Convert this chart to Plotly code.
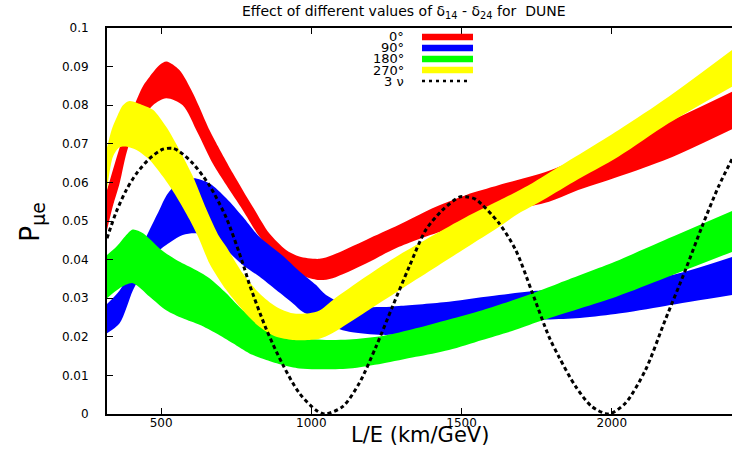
import plotly.graph_objects as go

# ---------------- data ----------------
RED_UP_X = [320, 362, 406, 440, 462, 495, 518, 561, 606, 661, 678, 739, 805, 860, 916, 960, 1027, 1071, 1182, 1292, 1403, 1514, 1625, 1791, 1957, 2179, 2400]
RED_UP_Y = [0.058, 0.069, 0.079, 0.085, 0.0874, 0.0904, 0.0913, 0.0891, 0.0831, 0.0736, 0.071, 0.0624, 0.0537, 0.0468, 0.0425, 0.0408, 0.0402, 0.0412, 0.0451, 0.049, 0.0533, 0.0567, 0.0593, 0.063, 0.0683, 0.0754, 0.0835]
RED_LO_X = [320, 340, 362, 390, 429, 473, 517, 572, 622, 672, 717, 772, 827, 883, 938, 982, 1027, 1071, 1182, 1292, 1458, 1625, 1791, 1874, 2023, 2189, 2400]
RED_LO_Y = [0.0477, 0.054, 0.0598, 0.069, 0.0755, 0.080, 0.0818, 0.080, 0.0728, 0.0649, 0.0593, 0.0528, 0.046, 0.041, 0.037, 0.0355, 0.0347, 0.0352, 0.039, 0.0433, 0.048, 0.052, 0.055, 0.0576, 0.0615, 0.0662, 0.0738]

BLUE_UP_X = [320, 362, 406, 440, 495, 517, 551, 606, 661, 717, 772, 827, 905, 960, 1016, 1049, 1126, 1237, 1292, 1458, 1625, 1747, 1957, 2189, 2400]
BLUE_UP_Y = [0.0285, 0.032, 0.038, 0.0442, 0.053, 0.0565, 0.0595, 0.0611, 0.0598, 0.0559, 0.0511, 0.0459, 0.041, 0.037, 0.0334, 0.0308, 0.028, 0.0277, 0.028, 0.0291, 0.0308, 0.0319, 0.0335, 0.0358, 0.0407]
BLUE_LO_X = [320, 362, 406, 440, 473, 517, 572, 617, 661, 717, 772, 827, 883, 938, 971, 1027, 1071, 1126, 1237, 1348, 1458, 1625, 1768, 1880, 2012, 2178, 2400]
BLUE_LO_Y = [0.0209, 0.0235, 0.032, 0.037, 0.041, 0.0438, 0.0464, 0.0468, 0.046, 0.0425, 0.0386, 0.0356, 0.0321, 0.0287, 0.0265, 0.0245, 0.0226, 0.0213, 0.0205, 0.0209, 0.0222, 0.0236, 0.0244, 0.0248, 0.0259, 0.028, 0.0308]

GREEN_UP_X = [320, 351, 380, 406, 440, 495, 551, 606, 661, 717, 772, 827, 883, 938, 993, 1049, 1126, 1237, 1348, 1458, 1569, 1680, 1824, 2012, 2189, 2400]
GREEN_UP_Y = [0.0412, 0.0433, 0.046, 0.0478, 0.0468, 0.0429, 0.0399, 0.0377, 0.0352, 0.0313, 0.0269, 0.024, 0.0218, 0.0203, 0.0195, 0.0192, 0.0193, 0.0202, 0.0222, 0.0245, 0.0269, 0.0297, 0.0339, 0.0395, 0.0455, 0.0526]
GREEN_LO_X = [320, 362, 406, 462, 517, 572, 628, 683, 739, 794, 850, 905, 960, 1016, 1126, 1237, 1348, 1458, 1569, 1680, 1774, 2015, 2179, 2400]
GREEN_LO_Y = [0.030, 0.0326, 0.0339, 0.0304, 0.0269, 0.0248, 0.0231, 0.0209, 0.0183, 0.0157, 0.014, 0.0127, 0.0118, 0.0116, 0.0118, 0.0131, 0.0148, 0.0166, 0.0192, 0.0218, 0.0244, 0.0304, 0.0353, 0.042]

YELLOW_UP_X = [320, 335, 351, 373, 395, 440, 473, 517, 561, 606, 650, 694, 717, 772, 827, 883, 938, 993, 1027, 1071, 1182, 1292, 1403, 1514, 1625, 1735, 1802, 2023, 2189, 2400]
YELLOW_UP_Y = [0.069, 0.0735, 0.0766, 0.080, 0.0811, 0.080, 0.0788, 0.0744, 0.0684, 0.0615, 0.0532, 0.0459, 0.0433, 0.0364, 0.0313, 0.0278, 0.0261, 0.0261, 0.0268, 0.0295, 0.0356, 0.0412, 0.0462, 0.051, 0.0553, 0.0598, 0.063, 0.0736, 0.0822, 0.0943]
YELLOW_LO_X = [320, 340, 362, 390, 418, 462, 506, 551, 595, 628, 661, 717, 772, 827, 883, 938, 993, 1027, 1071, 1182, 1292, 1403, 1514, 1625, 1691, 1757, 1874, 2023, 2189, 2400]
YELLOW_LO_Y = [0.058, 0.0667, 0.0691, 0.0692, 0.0684, 0.0658, 0.0615, 0.0563, 0.0503, 0.0451, 0.039, 0.0321, 0.0269, 0.0226, 0.020, 0.0192, 0.0192, 0.0195, 0.021, 0.0265, 0.032, 0.0375, 0.043, 0.0485, 0.052, 0.0548, 0.0602, 0.0667, 0.0753, 0.0848]

NU3_X = [320, 351, 384, 418, 462, 506, 540, 561, 606, 661, 717, 772, 794, 850, 905, 960, 1016, 1045, 1104, 1159,
         1215, 1270, 1326, 1381, 1436, 1492, 1514, 1547, 1625, 1680, 1735, 1791, 1824, 1880, 1934, 1990, 2045, 2112, 2178, 2245,
         2300, 2355, 2400]
NU3_Y = [0.0455, 0.0524, 0.058, 0.0623, 0.0662, 0.0686, 0.0688, 0.068, 0.0649, 0.0592, 0.0508, 0.039, 0.0336, 0.022, 0.0128, 0.0054, 0.001, 0.0, 0.0019, 0.0079,
         0.0174, 0.0278, 0.0382, 0.0477, 0.0528, 0.0562, 0.0563, 0.0556, 0.0494, 0.0425, 0.0315, 0.02, 0.0148, 0.0071, 0.0019, 0.0, 0.0028, 0.0114, 0.0244, 0.0373,
         0.0485, 0.0589, 0.066]

X_TICKS = [500, 1000, 1500, 2000]
Y_TICKS = [0, 0.01, 0.02, 0.03, 0.04, 0.05, 0.06, 0.07, 0.08, 0.09, 0.1]
Y_TICK_TEXT = ["0", "0.01", "0.02", "0.03", "0.04", "0.05", "0.06", "0.07", "0.08", "0.09", "0.1"]

LEGEND_LABELS = ["0°", "90°", "180°", "270°", "3 ν"]
RED, BLUE, GREEN, YELLOW = "#ff0000", "#0000ff", "#00ff00", "#ffff00"
LEGEND_COLORS = [RED, BLUE, GREEN, YELLOW, "black"]

FONT = "DejaVu Sans"

fig = go.Figure()


def band(xl, yl, xu, yu, color):
    ln = dict(width=0, color=color, shape="spline", smoothing=0.8)
    fig.add_trace(go.Scatter(x=xl, y=yl, mode="lines", line=ln, hoverinfo="skip", showlegend=False))
    fig.add_trace(go.Scatter(x=xu, y=yu, mode="lines", line=ln, fill="tonexty", fillcolor=color,
                             hoverinfo="skip", showlegend=False))


band(RED_LO_X, RED_LO_Y, RED_UP_X, RED_UP_Y, RED)
band(BLUE_LO_X, BLUE_LO_Y, BLUE_UP_X, BLUE_UP_Y, BLUE)
band(GREEN_LO_X, GREEN_LO_Y, GREEN_UP_X, GREEN_UP_Y, GREEN)
band(YELLOW_LO_X, YELLOW_LO_Y, YELLOW_UP_X, YELLOW_UP_Y, YELLOW)

fig.add_trace(go.Scatter(x=NU3_X, y=NU3_Y, mode="lines",
                         line=dict(color="black", width=3, dash="4px,3px", shape="spline", smoothing=0.8),
                         hoverinfo="skip", showlegend=False))

L, R, T, B = 107, 0, 28, 35
W, H = 732, 449
pw, ph = W - L - R, H - T - B


def px_x(p):
    return (p - L) / pw


def px_y(p):
    return (H - B - p) / ph


annotations = [
    dict(text="Effect of different values of δ<sub>14</sub> - δ<sub>24</sub> for\u00a0 DUNE",
         x=px_x(404), y=px_y(12), xref="paper", yref="paper", xanchor="center", yanchor="middle",
         showarrow=False, font=dict(family=FONT, size=14, color="black")),
    dict(text="L/E (km/GeV)", x=0.5, y=px_y(449), xref="paper", yref="paper",
         xanchor="center", yanchor="bottom", showarrow=False, font=dict(family=FONT, size=21, color="black")),
    dict(text="P<sub>μe</sub>", x=px_x(31), y=px_y(222), xref="paper", yref="paper", textangle=-90,
         xanchor="center", yanchor="middle", showarrow=False, font=dict(family=FONT, size=27, color="black")),
]

shapes = []
row_y = [37, 48, 59, 70, 81]
for i, (lab, col) in enumerate(zip(LEGEND_LABELS, LEGEND_COLORS)):
    yy = px_y(row_y[i])
    annotations.append(dict(text=lab, x=px_x(406), y=yy, xref="paper", yref="paper", xanchor="right",
                            yanchor="middle", showarrow=False, font=dict(family=FONT, size=13, color="black")))
    if i < 4:
        shapes.append(dict(type="line", xref="paper", yref="paper", x0=px_x(422), x1=px_x(473), y0=yy, y1=yy,
                           line=dict(color=col, width=6.5)))
    else:
        shapes.append(dict(type="line", xref="paper", yref="paper", x0=px_x(422), x1=px_x(470), y0=yy, y1=yy,
                           line=dict(color=col, width=2.5, dash="3px,4px")))

axis_common = dict(showgrid=False, zeroline=False, ticks="inside", ticklen=6, tickwidth=1,
                   tickcolor="black", linecolor="black",
                   tickfont=dict(family=FONT, size=12, color="black"))

fig.update_layout(
    width=W, height=H, margin=dict(l=L, r=R, t=T, b=B, pad=0),
    paper_bgcolor="white", plot_bgcolor="white", showlegend=False,
    xaxis=dict(range=[320, 2400], tickvals=X_TICKS, showline=True, linewidth=1.5, mirror="ticks",
               ticklabelstandoff=-3, **axis_common),
    yaxis=dict(range=[0, 0.1], tickvals=Y_TICKS, ticktext=Y_TICK_TEXT, showline=True, linewidth=2,
               mirror=False, ticklabelstandoff=14, **axis_common),
    yaxis2=dict(range=[0, 0.1], overlaying="y", side="right", anchor="x", tickvals=Y_TICKS,
                showticklabels=False, showline=False, showgrid=False, zeroline=False,
                ticks="inside", ticklen=6, tickcolor="black"),
    annotations=annotations, shapes=shapes,
)

fig.write_html("out.html")
